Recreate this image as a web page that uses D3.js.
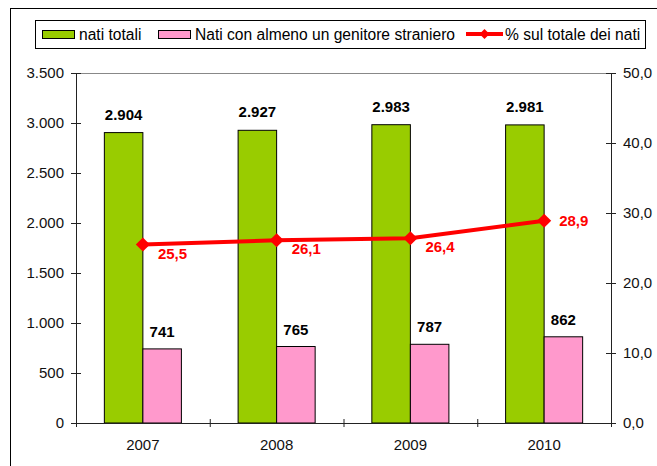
<!DOCTYPE html>
<html>
<head>
<meta charset="utf-8">
<script src="https://cdn.jsdelivr.net/npm/d3@7"></script>
<style>
	body { margin: 0; background: #fff; }
	svg { display: block; font-family: "Liberation Sans", Arial, sans-serif; }
	.axis path, .axis line { stroke: #222; }
	.axis text { font-size: 15px; fill: #111; }
	.val { font-size: 15px; font-weight: bold; }
</style>
</head>
<body>
<svg id="chart"></svg>
<script>
let years = ['2007', '2008', '2009', '2010'];
let natiTotali = [2904, 2927, 2983, 2981];
let natiStranieri = [741, 765, 787, 862];
let percentuale = [25.5, 26.1, 26.4, 28.9];
let leftTicks = [0, 500, 1000, 1500, 2000, 2500, 3000, 3500];
let rightTicks = [0, 10, 20, 30, 40, 50];
let legendLabels = ['nati totali', 'Nati con almeno un genitore straniero', '% sul totale dei nati'];

let w = 657, h = 466;
let leftX = 76, rightX = 611, topY = 73, bottomY = 423;

// italian number format: 3.500 and 25,5
let it = d3.formatLocale({ decimal: ',', thousands: '.', grouping: [3], currency: ['€', ''] });
let fmtInt = it.format(',d');
let fmtDec = it.format(',.1f');

let chart = d3.select('#chart')
	.attr('width', w)
	.attr('height', h);

// outer frame (runs off the right and bottom edges)
chart.append('rect')
	.attr('x', 10.5).attr('y', 8.5)
	.attr('width', 700).attr('height', 500)
	.attr('fill', 'none')
	.attr('stroke', '#000');

let xScale = d3.scaleBand()
	.domain(years)
	.range([leftX, rightX])
	.paddingInner(0.424)
	.paddingOuter(0.212);

let xSub = d3.scaleBand()
	.domain(['tot', 'str'])
	.range([0, xScale.bandwidth()]);

let yLeft = d3.scaleLinear().domain([0, 3500]).range([bottomY, topY]);
let yRight = d3.scaleLinear().domain([0, 50]).range([bottomY, topY]);

// top border of plot area
chart.append('line')
	.attr('x1', leftX).attr('x2', rightX)
	.attr('y1', topY + 0.5).attr('y2', topY + 0.5)
	.attr('stroke', '#888');

// bars
let groups = chart.selectAll('.grp')
	.data(years)
	.enter()
	.append('g')
	.attr('class', 'grp')
	.attr('transform', (d) => `translate(${xScale(d)},0)`);

groups.append('rect')
	.attr('x', xSub('tot'))
	.attr('y', (d, i) => yLeft(natiTotali[i]))
	.attr('width', xSub.bandwidth())
	.attr('height', (d, i) => bottomY - yLeft(natiTotali[i]))
	.attr('fill', '#99cc00')
	.attr('stroke', '#000');

groups.append('rect')
	.attr('x', xSub('str'))
	.attr('y', (d, i) => yLeft(natiStranieri[i]))
	.attr('width', xSub.bandwidth())
	.attr('height', (d, i) => bottomY - yLeft(natiStranieri[i]))
	.attr('fill', '#ff99cc')
	.attr('stroke', '#000');

groups.append('text')
	.attr('class', 'val')
	.attr('x', xSub('tot') + xSub.bandwidth() / 2)
	.attr('y', (d, i) => yLeft(natiTotali[i]) - 13)
	.attr('text-anchor', 'middle')
	.text((d, i) => fmtInt(natiTotali[i]));

groups.append('text')
	.attr('class', 'val')
	.attr('x', xSub('str') + xSub.bandwidth() / 2)
	.attr('y', (d, i) => yLeft(natiStranieri[i]) - 12)
	.attr('text-anchor', 'middle')
	.text((d, i) => fmtInt(natiStranieri[i]));

// axes
let crossTicks = (g) => g.selectAll('.tick line').attr('x1', -5).attr('x2', 5);

chart.append('g')
	.attr('class', 'axis')
	.attr('transform', `translate(${leftX},0)`)
	.call(d3.axisLeft(yLeft).tickValues(leftTicks).tickFormat(fmtInt).tickSize(5).tickSizeOuter(0).tickPadding(7))
	.call(crossTicks);

chart.append('g')
	.attr('class', 'axis')
	.attr('transform', `translate(${rightX},0)`)
	.call(d3.axisRight(yRight).tickValues(rightTicks).tickFormat(fmtDec).tickSize(5).tickSizeOuter(0).tickPadding(7))
	.call(crossTicks);

// x axis: labels at centers, ticks at category boundaries
let xEdges = d3.scaleLinear().domain([0, years.length]).range([leftX, rightX]);

chart.append('g')
	.attr('class', 'axis')
	.attr('transform', `translate(0,${bottomY})`)
	.call(d3.axisBottom(xEdges).tickValues(d3.range(0, years.length + 1)).tickFormat('').tickSize(4).tickSizeOuter(0))
	.call((g) => g.selectAll('.tick line').attr('y1', -4).attr('y2', 4));

chart.append('g')
	.attr('class', 'axis')
	.attr('transform', `translate(0,${bottomY})`)
	.call(d3.axisBottom(xScale).tickSize(0).tickPadding(16))
	.call((g) => g.select('.domain').remove());

// percentage line
let cx = (d, i) => xScale(years[i]) + xScale.bandwidth() / 2;
let line = d3.line()
	.x(cx)
	.y((d) => yRight(d));

chart.append('path')
	.datum(percentuale)
	.attr('d', line)
	.attr('fill', 'none')
	.attr('stroke', '#ff0000')
	.attr('stroke-width', 4);

let diamond = d3.symbol().type(d3.symbolSquare).size(100);

chart.selectAll('.mark')
	.data(percentuale)
	.enter()
	.append('path')
	.attr('class', 'mark')
	.attr('d', diamond)
	.attr('transform', (d, i) => `translate(${cx(d, i)},${yRight(d)}) rotate(45)`)
	.attr('fill', '#ff0000');

chart.selectAll('.pct')
	.data(percentuale)
	.enter()
	.append('text')
	.attr('class', 'val')
	.attr('fill', '#ff0000')
	.attr('x', (d, i) => cx(d, i) + 15)
	.attr('y', (d, i) => yRight(d) + (i == percentuale.length - 1 ? 5.5 : 14))
	.text((d) => fmtDec(d));

// legend
let legend = chart.append('g').attr('class', 'legend');

legend.append('rect')
	.attr('x', 35.5).attr('y', 20.5)
	.attr('width', 610).attr('height', 28)
	.attr('fill', '#fff')
	.attr('stroke', '#000');

let legendX = [42, 158, 466];
let swatches = ['#99cc00', '#ff99cc'];

swatches.forEach((c, i) => {
	legend.append('rect')
		.attr('x', legendX[i] + 0.5).attr('y', 30.5)
		.attr('width', 32).attr('height', 8)
		.attr('fill', c)
		.attr('stroke', '#000');
});

legend.append('line')
	.attr('x1', legendX[2]).attr('x2', legendX[2] + 37)
	.attr('y1', 34).attr('y2', 34)
	.attr('stroke', '#ff0000')
	.attr('stroke-width', 4);

legend.append('path')
	.attr('d', d3.symbol().type(d3.symbolSquare).size(50))
	.attr('transform', `translate(${legendX[2] + 18.5},34) rotate(45)`)
	.attr('fill', '#ff0000');

legend.selectAll('.ltxt')
	.data(legendLabels)
	.enter()
	.append('text')
	.attr('class', 'ltxt')
	.attr('x', (d, i) => legendX[i] + (i < 2 ? 37 : 39))
	.attr('y', 39.5)
	.style('font-size', '15.6px')
	.text((d) => d);
</script>
</body>
</html>
